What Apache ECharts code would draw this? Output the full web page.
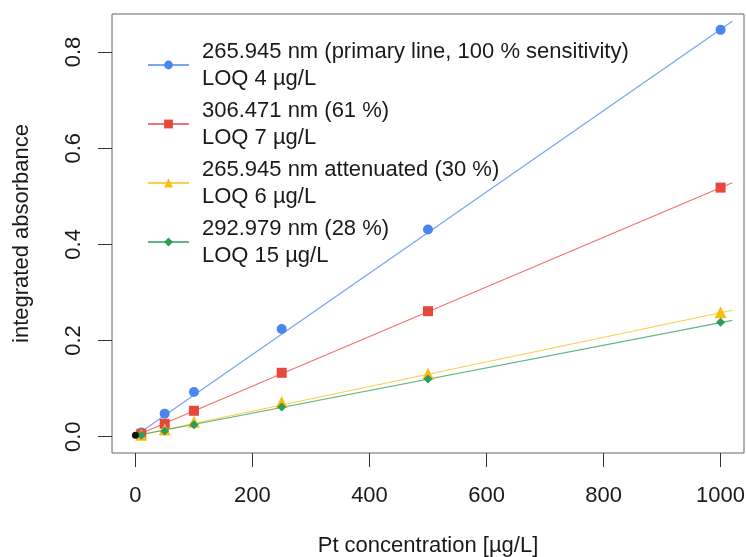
<!DOCTYPE html>
<html>
<head>
<meta charset="utf-8">
<script src="https://cdn.jsdelivr.net/npm/echarts@6/dist/echarts.min.js"></script>
<style>
  html, body { margin: 0; padding: 0; background: #fff; }
  #chart { width: 746px; height: 557px; }
</style>
</head>
<body>
<div id="chart"></div>
<script>
// concentrations in µg/L
var conc = [10, 50, 100, 250, 500, 1000];
var blue = [0.009, 0.048, 0.093, 0.224, 0.431, 0.846];
var red = [0.006, 0.027, 0.054, 0.133, 0.261, 0.518];
var yellow = [0.004, 0.015, 0.031, 0.072, 0.131, 0.259];
var green = [0.003, 0.012, 0.025, 0.062, 0.120, 0.238];
var blank = [[0, 0.003]];

// regression lines, ends
var fitX = [0, 1020];
var fitBlue = [0.002, 0.864];
var fitRed = [0.002, 0.528];
var fitYellow = [0.002, 0.263];
var fitGreen = [0.002, 0.242];

var xTicks = [0, 200, 400, 600, 800, 1000];
var yTicks = [0, 0.2, 0.4, 0.6, 0.8];

var names = [
  '265.945 nm (primary line, 100 % sensitivity)\nLOQ 4 µg/L',
  '306.471 nm (61 %)\nLOQ 7 µg/L',
  '265.945 nm attenuated (30 %)\nLOQ 6 µg/L',
  '292.979 nm (28 %)\nLOQ 15 µg/L'
];
var colors = ['#4a86f0', '#e8473b', '#f9bd10', '#2e9c5a'];
var symbols = ['circle', 'rect', 'triangle', 'diamond'];
var sizes = [10, 10, 12, 9];
var values = [blue, red, yellow, green];
var fits = [fitBlue, fitRed, fitYellow, fitGreen];

function pairs(xs, ys) {
  return xs.map(function (x, i) { return [x, ys[i]]; });
}

var font = 'Liberation Sans';
var series = [];
values.forEach(function (v, i) {
  series.push({
    name: names[i],
    type: 'line',
    data: pairs(fitX, fits[i]),
    symbol: symbols[i],
    symbolSize: sizes[i],
    showSymbol: false,
    silent: true,
    itemStyle: { color: colors[i] },
    lineStyle: { color: colors[i], width: 1.2, opacity: 0.75 },
    z: 2
  });
  series.push({
    name: 'points ' + i,
    type: 'scatter',
    data: pairs(conc, v),
    symbol: symbols[i],
    symbolSize: sizes[i],
    itemStyle: { color: colors[i], opacity: 1 },
    z: 3
  });
});
series.push({
  name: 'blank',
  type: 'scatter',
  data: blank,
  symbolSize: 7,
  itemStyle: { color: '#111', opacity: 1 },
  z: 4
});

var chart = echarts.init(document.getElementById('chart'));
chart.setOption({
  animation: false,
  grid: {
    left: 112, top: 14, right: 2, bottom: 104,
    outerBoundsMode: 'none',
    containLabel: false,
    show: true, borderColor: '#666', borderWidth: 1
  },
  legend: {
    data: names,
    orient: 'vertical',
    left: 142,
    top: 33,
    itemWidth: 41,
    itemHeight: 11,
    itemGap: 5,
    selectedMode: false,
    textStyle: {
      fontFamily: font, fontSize: 22, color: '#1a1a1a',
      lineHeight: 27, padding: [0, 0, 0, 8]
    }
  },
  xAxis: {
    type: 'value',
    min: -40, max: 1040,
    splitLine: { show: false },
    axisLine: { show: false, onZero: false },
    axisTick: { show: true, length: 14, customValues: xTicks, lineStyle: { color: '#333' } },
    axisLabel: {
      customValues: xTicks, margin: 32,
      fontFamily: font, fontSize: 22, color: '#1a1a1a',
      formatter: function (v) { return String(v); }
    },
    name: 'Pt concentration [µg/L]',
    nameLocation: 'middle',
    nameGap: 82,
    nameTextStyle: { fontFamily: font, fontSize: 22, color: '#1a1a1a' }
  },
  yAxis: {
    type: 'value',
    min: -0.0338, max: 0.879,
    splitLine: { show: false },
    axisLine: { show: false, onZero: false },
    axisTick: { show: true, length: 14, customValues: yTicks, lineStyle: { color: '#333' } },
    axisLabel: {
      customValues: yTicks, rotate: 90, margin: 27,
      fontFamily: font, fontSize: 22, color: '#1a1a1a',
      formatter: function (v) { return v.toFixed(1); }
    },
    name: 'integrated absorbance',
    nameLocation: 'middle',
    nameGap: 79,
    nameTextStyle: { fontFamily: font, fontSize: 22, color: '#1a1a1a' }
  },
  series: series
});
</script>
</body>
</html>
